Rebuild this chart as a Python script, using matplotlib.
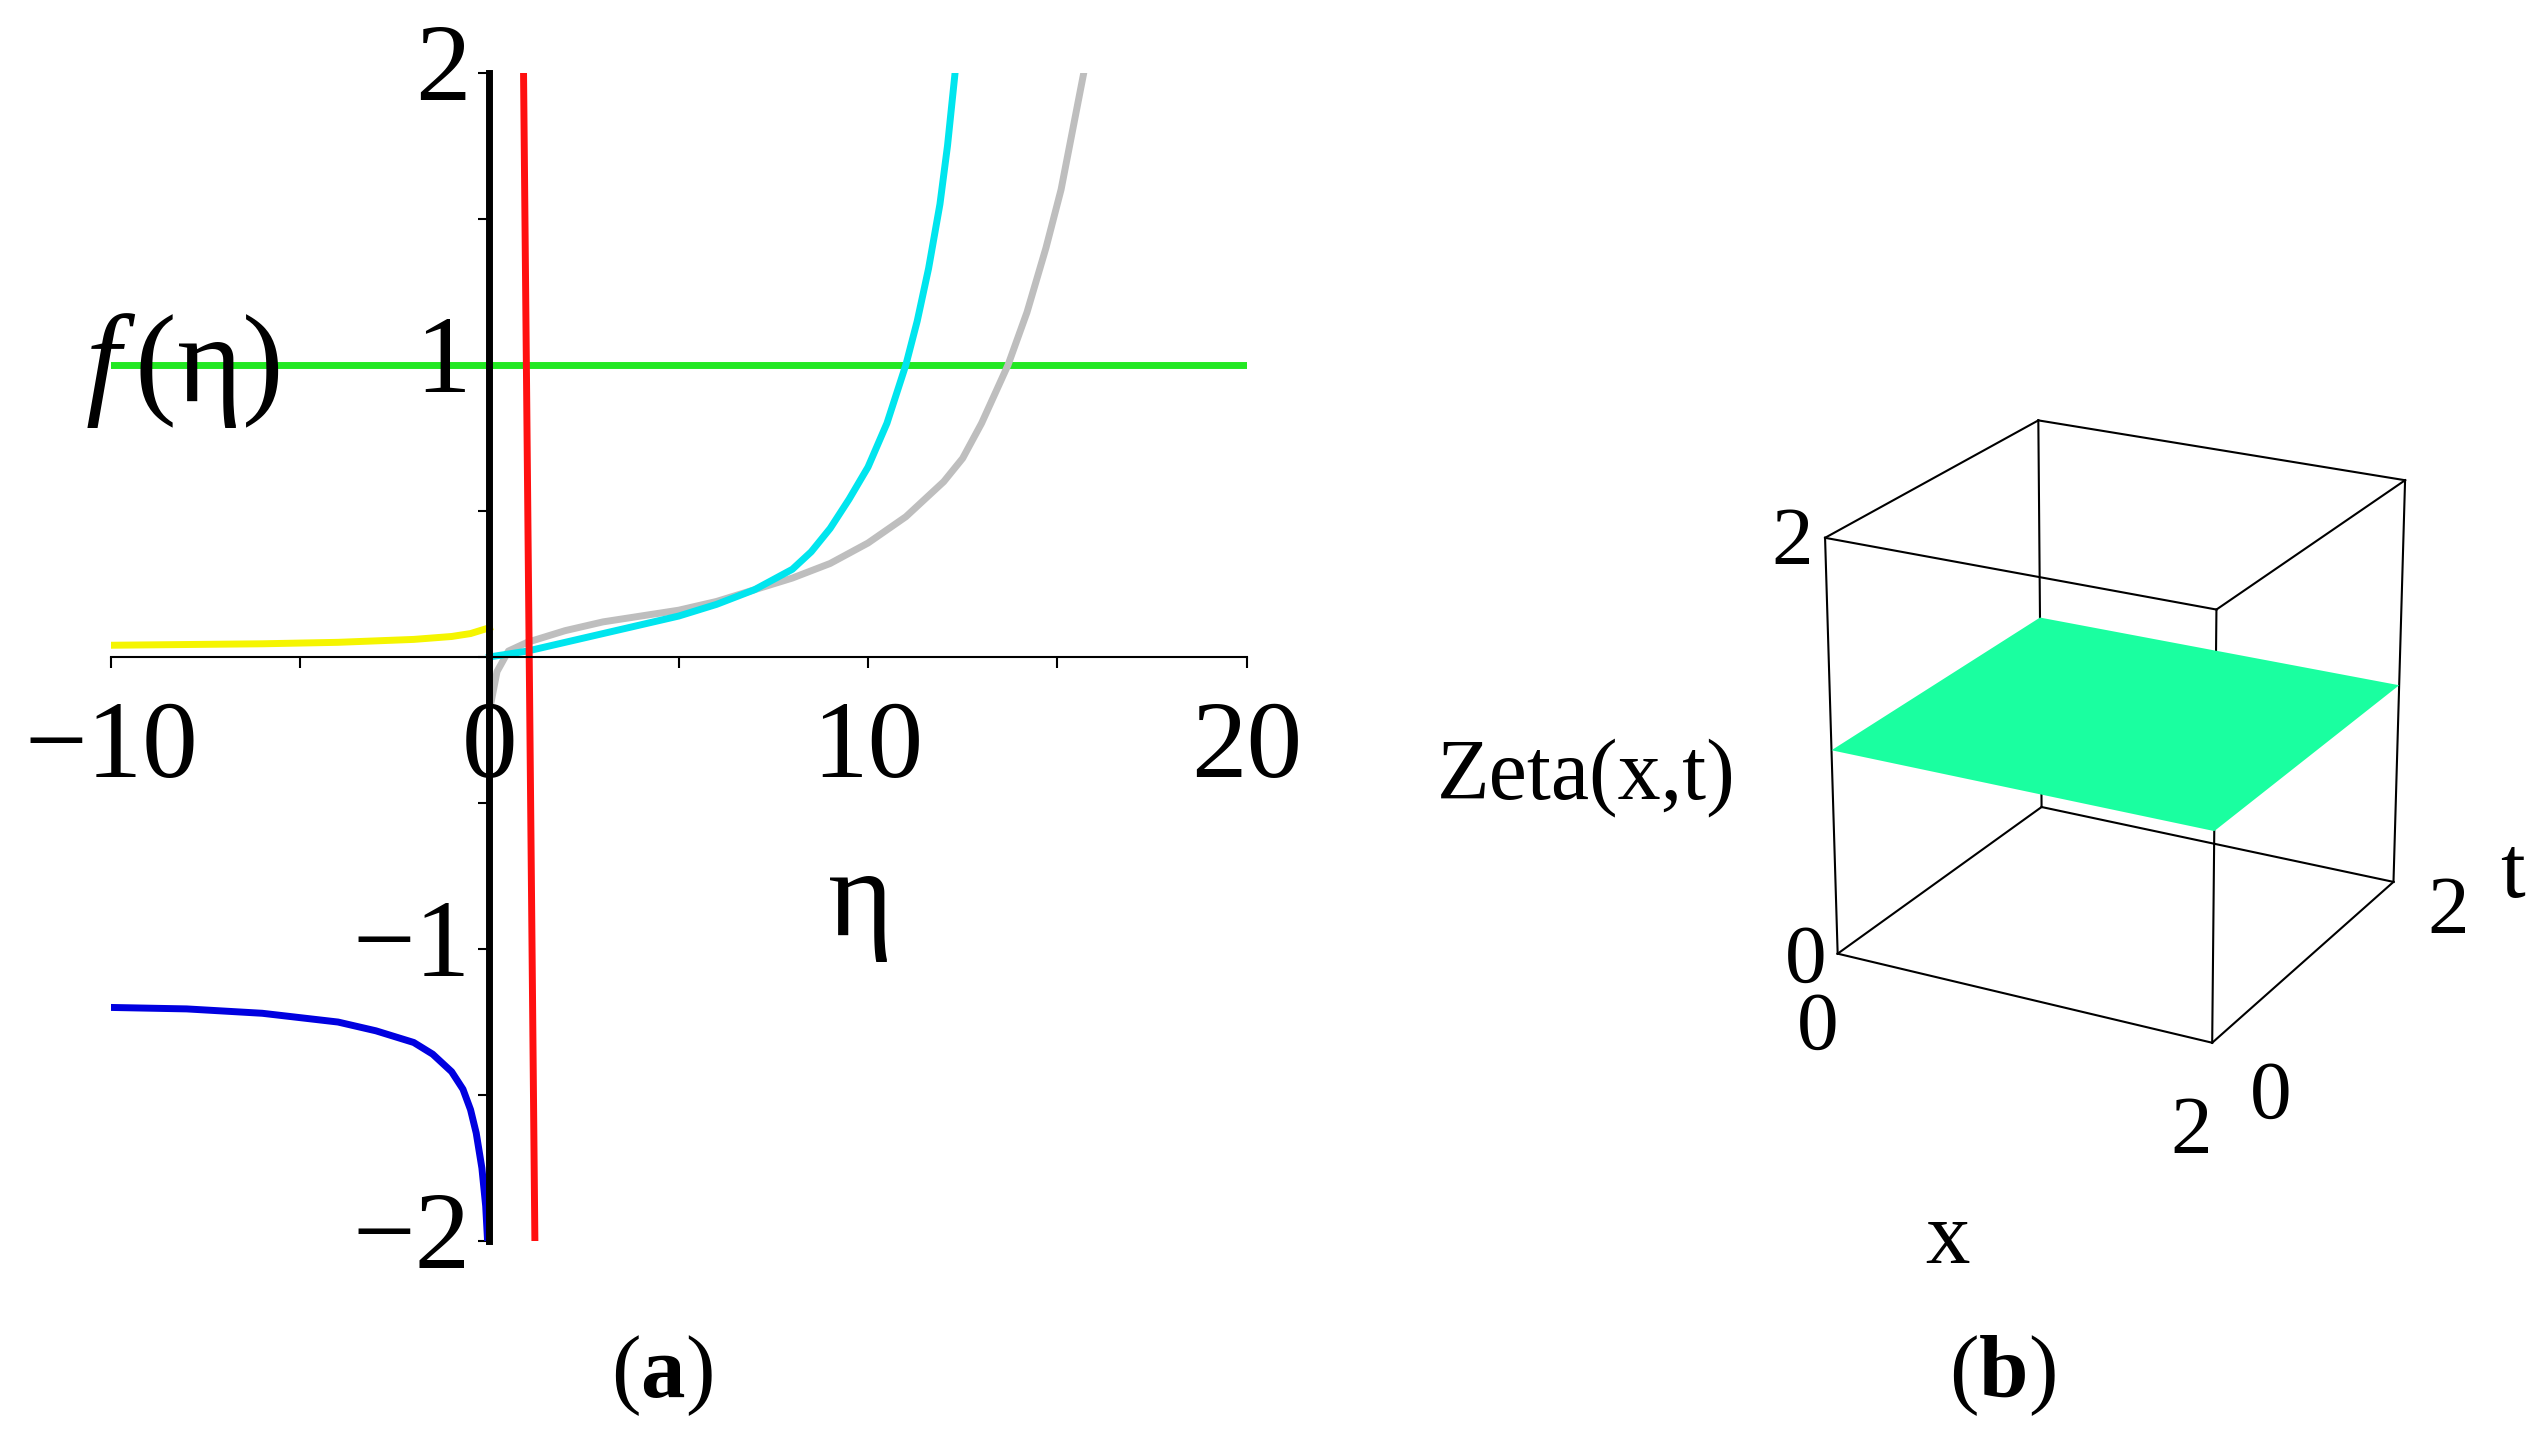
import matplotlib
matplotlib.use("Agg")
import matplotlib.pyplot as plt
import numpy as np

cyan_x = [0, 1, 2, 3, 4, 5, 6, 7, 8, 8.5, 9, 9.5, 10, 10.5, 11, 11.3, 11.6, 11.9, 12.1, 12.3]
cyan_y = [0, 0.02, 0.05, 0.08, 0.11, 0.14, 0.18, 0.23, 0.3, 0.36, 0.44, 0.54, 0.65, 0.8, 1.0, 1.15, 1.33, 1.55, 1.75, 2.0]
gray_x = [0.05, 0.2, 0.5, 1, 2, 3, 4, 5, 6, 7, 8, 9, 10, 11, 12, 12.5, 13, 13.7, 14.2, 14.7, 15.1, 15.4, 15.7]
gray_y = [-0.15, -0.05, 0.02, 0.05, 0.09, 0.12, 0.14, 0.16, 0.19, 0.23, 0.27, 0.32, 0.39, 0.48, 0.6, 0.68, 0.8, 1.0, 1.18, 1.4, 1.6, 1.8, 2.0]
blue_x = [-10, -8, -6, -4, -3, -2, -1.5, -1, -0.7, -0.5, -0.35, -0.2, -0.1, -0.05]
blue_y = [-1.2, -1.205, -1.22, -1.25, -1.28, -1.32, -1.36, -1.42, -1.48, -1.55, -1.63, -1.75, -1.88, -2.0]
yellow_x = [-10, -6, -4, -2, -1, -0.5, 0]
yellow_y = [0.04, 0.045, 0.05, 0.06, 0.07, 0.08, 0.1]
red_x = [0.9, 1.2]
red_y = [2.0, -2.0]
green_x = [-10, 20]
green_y = [1, 1]

serif = "Liberation Serif"
plt.rcParams["mathtext.fontset"] = "custom"
plt.rcParams["mathtext.rm"] = serif
plt.rcParams["mathtext.it"] = serif + ":italic"
plt.rcParams["mathtext.bf"] = serif + ":bold"
fig = plt.figure(figsize=(25.44, 14.55), dpi=100)
ax = fig.add_axes([0.0436, 0.147, 0.4464, 0.803])
ax.set_xlim(-10, 20)
ax.set_ylim(-2, 2)
for s in ["top", "right"]:
    ax.spines[s].set_visible(False)
ax.spines["left"].set_position(("data", 0))
ax.spines["bottom"].set_position(("data", 0))
ax.spines["left"].set_linewidth(5)
ax.spines["bottom"].set_linewidth(1.5)
ax.set_xticks([-10, -5, 0, 5, 10, 15, 20])
ax.set_xticklabels([])
ax.set_yticks([-2, -1.5, -1, -0.5, 0, 0.5, 1, 1.5, 2])
ax.set_yticklabels([])
ax.tick_params(length=8, width=1.5, direction="out")
lw = 5
ax.plot(green_x, green_y, color="#22e822", lw=lw)
ax.plot(yellow_x, yellow_y, color="#f5f500", lw=lw)
ax.plot(blue_x, blue_y, color="#0000e0", lw=lw)
ax.plot(gray_x, gray_y, color="#bebebe", lw=lw)
ax.plot(cyan_x, cyan_y, color="#00e5ee", lw=lw)
ax.plot(red_x, red_y, color="#ff1010", lw=lw)
fs = 80
for v in [-10, 0, 10, 20]:
    lab = "\u2212%d" % abs(v) if v < 0 else str(v)
    ax.text(v, -0.15, lab, ha="center", va="top", fontsize=fs, family=serif)
for v in [2, 1, -1, -2]:
    lab = "\u2212%d" % abs(v) if v < 0 else str(v)
    ax.text(-0.5, v, lab, ha="right", va="center", fontsize=fs, family=serif)
ax.text(-8.1, 0.98, r"$f\,$(η)", ha="center", va="center", fontsize=90, family=serif)
ax.text(9.8, -0.85, "η", ha="center", va="center", fontsize=90, family=serif)

fig.text(0.26, 0.04, r"($\mathbf{a}$)", ha="center", fontsize=64, family=serif)
fig.text(0.787, 0.04, r"($\mathbf{b}$)", ha="center", fontsize=64, family=serif)

# panel b
ax3 = fig.add_axes([0.689, 0.177, 0.282, 0.647], projection="3d")
ax3.set_axis_off()
ax3.view_init(elev=22, azim=-62)
ax3.set_box_aspect((1, 1, 1.05))
xx, tt = np.meshgrid([0, 2], [0, 2])
ax3.plot_surface(xx, tt, np.ones_like(xx), color="#1affa0", shade=False)
edges = [((0, 2), (0, 0), (0, 0)), ((0, 2), (2, 2), (0, 0)), ((0, 2), (0, 0), (2, 2)), ((0, 2), (2, 2), (2, 2)),
         ((0, 0), (0, 2), (0, 0)), ((2, 2), (0, 2), (0, 0)), ((0, 0), (0, 2), (2, 2)), ((2, 2), (0, 2), (2, 2)),
         ((0, 0), (0, 0), (0, 2)), ((2, 2), (0, 0), (0, 2)), ((0, 0), (2, 2), (0, 2)), ((2, 2), (2, 2), (0, 2))]
for ex, ey, ez in edges:
    ax3.plot(ex, ey, ez, color="black", lw=1.5)
ax3.set_xlim(0, 2); ax3.set_ylim(0, 2); ax3.set_zlim(0, 2)
ax3.text(0, -0.1, 2, "2", fontsize=60, family=serif, ha="right", va="center")
ax3.text(0, -0.1, 0, "0", fontsize=60, family=serif, ha="right", va="center")
ax3.text(0, -0.2, -0.3, "0", fontsize=60, family=serif, ha="center", va="center")
ax3.text(2, -0.2, -0.35, "2", fontsize=60, family=serif, ha="center", va="center")
ax3.text(2.3, 0, -0.2, "0", fontsize=60, family=serif, ha="center", va="center")
ax3.text(2.3, 2, -0.1, "2", fontsize=60, family=serif, ha="center", va="center")
ax3.text(1, -0.7, -0.9, "x", fontsize=64, family=serif, ha="center", va="center")
ax3.text(2.75, 1.7, 0.3, "t", fontsize=64, family=serif, ha="center", va="center")
ax3.text(0, -0.8, 1.15, "Zeta(x,t)", fontsize=62, family=serif, ha="right", va="center")

fig.savefig("out.png", dpi=100)
